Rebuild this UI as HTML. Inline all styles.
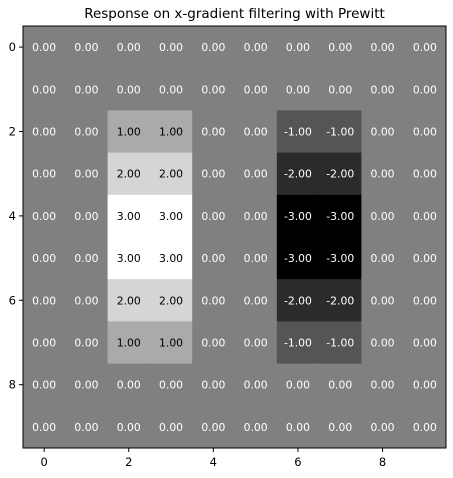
<!DOCTYPE html>
<html><head><meta charset="utf-8"><style>
body{margin:0;background:#fff;width:453px;height:474px;overflow:hidden;font-family:"DejaVu Sans","Liberation Sans",sans-serif}
svg text{font-family:"DejaVu Sans","Liberation Sans",sans-serif}
</style></head><body>
<svg id="c" width="453" height="474">
<text x="234.5" y="18" text-anchor="middle" font-size="13.5">Response on x-gradient filtering with Prewitt</text>
</svg>
<script>
const cols=[0,1,2,3,4,5,6,7,8,9];
const rows=[0,1,2,3,4,5,6,7,8,9];
const colValues=[0,0,1,2,3,3,2,1,0,0];
const values=rows.map(r=>cols.map(c=>(c===2||c===3)?colValues[r]:(c===6||c===7)?-colValues[r]:0));
const tickLabels=[0,2,4,6,8];
const vmin=-3,vmax=3;
const L=23,T=26,W=423,H=422;
const cw=W/cols.length,ch=H/rows.length;
const xs=i=>L+i*cw, ys=j=>T+j*ch;
const svg=document.getElementById('c');
const NS='http://www.w3.org/2000/svg';
function mk(t,a){const e=document.createElementNS(NS,t);for(const k in a)e.setAttribute(k,a[k]);svg.appendChild(e);return e;}
rows.forEach((r,j)=>cols.forEach((c,i)=>{
 const v=values[j][i];const g=Math.round((v-vmin)/(vmax-vmin)*255);
 const rc=mk('rect',{x:xs(i),y:ys(j),width:cw+0.5,height:ch+0.5,fill:`rgb(${g},${g},${g})`});
 
 
 const t=mk('text',{x:xs(i)+cw/2,y:ys(j)+ch/2+4,'text-anchor':'middle','font-size':'10.8',fill:v>0.5?'#000':'#fff'});
 t.textContent=v.toFixed(2);
 
 
}));
const fr=mk('rect',{x:L,y:T,width:W,height:H,fill:'none',stroke:'#000','stroke-width':1});


tickLabels.forEach(v=>{
 const x=xs(v)+cw/2;
 mk('line',{x1:x,x2:x,y1:T+H,y2:T+H+4,stroke:'#000'});
 const tx=mk('text',{x:x,y:T+H+18,'text-anchor':'middle','font-size':'11.5'});
 tx.textContent=v;
 
 
 const y=ys(v)+ch/2;
 mk('line',{x1:L-4,x2:L,y1:y,y2:y,stroke:'#000'});
 const ty=mk('text',{x:L-7,y:y+4,'text-anchor':'end','font-size':'11.5'});
 ty.textContent=v;
 
 
});
</script>
</body></html>
